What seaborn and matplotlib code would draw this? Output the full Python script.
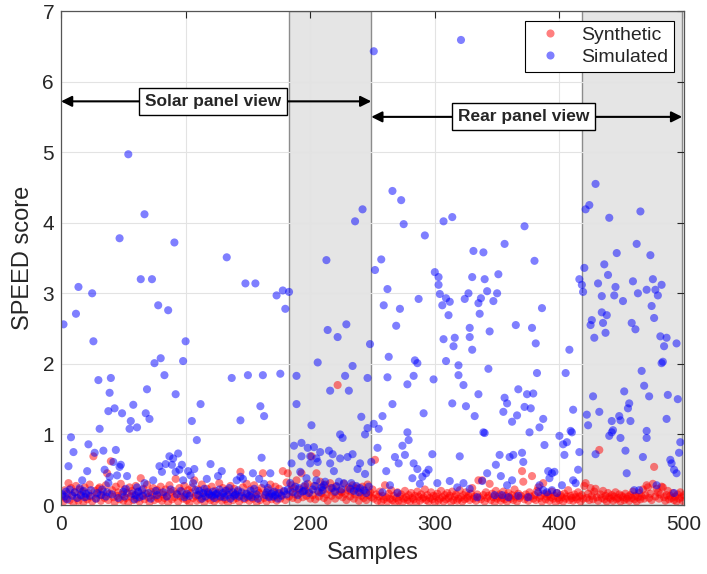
import seaborn as sns
import matplotlib
matplotlib.use('Agg')
import matplotlib.pyplot as plt
import pandas as pd
import numpy as np

# Synthetic (red): one score per sample, 1..500
synthetic_scores = [
    0.12, 0.05, 0.21, 0.09, 0.16, 0.31, 0.07, 0.24, 0.14, 0.03,
    0.18, 0.27, 0.10, 0.06, 0.22, 0.13, 0.19, 0.04, 0.25, 0.11,
    0.08, 0.17, 0.29, 0.12, 0.05, 0.69, 0.20, 0.09, 0.15, 0.23,
    0.25, 0.06, 0.14, 0.19, 0.10, 0.28, 0.45, 0.07, 0.16, 0.62,
    0.21, 0.11, 0.04, 0.26, 0.13, 0.18, 0.08, 0.30, 0.15, 0.06,
    0.22, 0.10, 0.17, 0.03, 0.25, 0.12, 0.20, 0.07, 0.14, 0.27,
    0.09, 0.18, 0.05, 0.38, 0.13, 0.23, 0.08, 0.16, 0.29, 0.11,
    0.04, 0.19, 0.14, 0.24, 0.07, 0.12, 0.21, 0.09, 0.17, 0.26,
    0.06, 0.15, 0.10, 0.22, 0.13, 0.04, 0.28, 0.18, 0.08, 0.20,
    0.11, 0.37, 0.16, 0.05, 0.24, 0.12, 0.19, 0.09, 0.27, 0.14,
    0.07, 0.21, 0.03, 0.17, 0.25, 0.10, 0.35, 0.13, 0.06, 0.22,
    0.15, 0.08, 0.29, 0.12, 0.04, 0.19, 0.23, 0.10, 0.16, 0.07,
    0.26, 0.13, 0.05, 0.20, 0.09, 0.17, 0.31, 0.11, 0.06, 0.24,
    0.14, 0.08, 0.21, 0.03, 0.18, 0.27, 0.12, 0.07, 0.23, 0.15,
    0.10, 0.19, 0.05, 0.47, 0.13, 0.25, 0.08, 0.16, 0.30, 0.11,
    0.06, 0.22, 0.14, 0.09, 0.28, 0.12, 0.04, 0.20, 0.17, 0.07,
    0.24, 0.45, 0.10, 0.15, 0.05, 0.21, 0.13, 0.29, 0.08, 0.18,
    0.11, 0.26, 0.06, 0.16, 0.23, 0.09, 0.14, 0.48, 0.19, 0.07,
    0.32, 0.45, 0.12, 0.20, 0.28, 0.10, 0.24, 0.15, 0.35, 0.08,
    0.22, 0.17, 0.45, 0.11, 0.26, 0.21, 0.13, 0.30, 0.19, 0.09,
    0.69, 0.14, 0.27, 0.08, 0.45, 0.20, 0.12, 0.33, 0.17, 0.25,
    0.10, 0.29, 0.15, 0.06, 0.22, 0.31, 0.13, 0.24, 0.18, 0.09,
    0.27, 1.70, 0.14, 0.20, 0.18, 0.11, 0.30, 0.16, 0.07, 0.21,
    0.25, 0.12, 0.19, 0.28, 0.09, 0.15, 0.23, 0.25, 0.06, 0.17,
    0.13, 0.26, 0.10, 0.20, 0.07, 0.29, 0.14, 0.18, 0.11, 0.22,
    0.09, 0.64, 0.15, 0.06, 0.12, 0.19, 0.04, 0.13, 0.08, 0.28,
    0.11, 0.05, 0.16, 0.09, 0.21, 0.07, 0.13, 0.03, 0.10, 0.18,
    0.06, 0.12, 0.15, 0.04, 0.09, 0.20, 0.11, 0.07, 0.14, 0.05,
    0.17, 0.10, 0.08, 0.13, 0.03, 0.19, 0.12, 0.06, 0.15, 0.09,
    0.11, 0.22, 0.07, 0.14, 0.05, 0.10, 0.18, 0.08, 0.13, 0.04,
    0.12, 0.16, 0.06, 0.09, 0.20, 0.11, 0.05, 0.14, 0.08, 0.17,
    0.10, 0.13, 0.04, 0.19, 0.07, 0.12, 0.15, 0.06, 0.09, 0.21,
    0.11, 0.05, 0.14, 0.08, 0.18, 0.10, 0.13, 0.07, 0.16, 0.24,
    0.09, 0.12, 0.06, 0.15, 0.35, 0.11, 0.08, 0.35, 0.14, 0.05,
    0.18, 0.10, 0.13, 0.30, 0.07, 0.16, 0.11, 0.04, 0.20, 0.09,
    0.12, 0.15, 0.06, 0.10, 0.19, 0.08, 0.13, 0.05, 0.17, 0.11,
    0.09, 0.14, 0.07, 0.22, 0.12, 0.05, 0.16, 0.10, 0.13, 0.48,
    0.33, 0.08, 0.15, 0.11, 0.06, 0.18, 0.12, 0.41, 0.09, 0.14,
    0.07, 0.20, 0.25, 0.10, 0.13, 0.05, 0.31, 0.16, 0.08, 0.12,
    0.15, 0.06, 0.11, 0.19, 0.09, 0.13, 0.04, 0.17, 0.10, 0.07,
    0.14, 0.11, 0.05, 0.16, 0.09, 0.12, 0.21, 0.07, 0.13, 0.10,
    0.06, 0.15, 0.11, 0.08, 0.18, 0.12, 0.05, 0.14, 0.09, 0.27,
    0.31, 0.10, 0.16, 0.07, 0.24, 0.13, 0.08, 0.19, 0.23, 0.11,
    0.06, 0.78, 0.15, 0.10, 0.20, 0.08, 0.13, 0.05, 0.17, 0.11,
    0.09, 0.14, 0.06, 0.12, 0.18, 0.08, 0.10, 0.15, 0.05, 0.13,
    0.11, 0.07, 0.16, 0.09, 0.12, 0.06, 0.14, 0.10, 0.19, 0.08,
    0.13, 0.05, 0.11, 0.17, 0.08, 0.12, 0.22, 0.09, 0.14, 0.28,
    0.25, 0.10, 0.16, 0.07, 0.30, 0.54, 0.12, 0.23, 0.18, 0.09,
    0.15, 0.26, 0.25, 0.11, 0.06, 0.14, 0.20, 0.08, 0.13, 0.10,
    0.17, 0.07, 0.12, 0.05, 0.15, 0.09, 0.18, 0.11, 0.06, 0.14,
]
synthetic_samples = list(range(1, len(synthetic_scores) + 1))

# Simulated (blue): sample index and score
simulated_samples = [
    1, 2, 3, 4, 5, 6, 7, 8, 9,
    10, 11, 12, 13, 14, 15, 16, 17, 18, 19,
    20, 21, 22, 23, 24, 25, 26, 27, 28, 29,
    30, 31, 32, 33, 34, 35, 36, 37, 38, 38, 39, 39,
    40, 41, 42, 43, 44, 45, 46, 47, 47, 48, 49,
    50, 51, 52, 53, 54, 55, 56, 57, 58, 59,
    60, 61, 61, 62, 63, 64, 65, 66, 67, 67, 68, 69,
    70, 71, 72, 73, 74, 75, 76, 77, 78, 79,
    80, 81, 82, 83, 84, 85, 86, 87, 88, 89,
    90, 91, 92, 92, 93, 94, 95, 96, 97, 98, 98, 99,
    100, 101, 102, 103, 104, 105, 106, 107, 108, 109,
    110, 111, 112, 113, 114, 115, 116, 117, 118, 119,
    120, 121, 122, 123, 124, 125, 126, 127, 128, 129,
    130, 131, 132, 133, 134, 135, 136, 137, 138, 139,
    140, 141, 142, 143, 144, 144, 145, 146, 147, 148, 149,
    150, 151, 152, 153, 154, 155, 156, 157, 158, 159,
    160, 161, 162, 163, 163, 164, 165, 166, 167, 168, 169,
    170, 171, 172, 173, 174, 175, 176, 177, 178, 179,
    180, 181, 182, 183, 184, 185, 186, 187, 188, 189, 189,
    190, 191, 192, 193, 193, 194, 195, 196, 197, 198, 199,
    200, 200, 201, 202, 203, 204, 205, 205, 206, 206, 207, 208, 209,
    210, 211, 212, 213, 214, 215, 216, 216, 217, 218, 219,
    220, 221, 222, 223, 224, 224, 225, 226, 227, 228, 229,
    230, 231, 232, 233, 234, 234, 235, 236, 237, 238, 239,
    240, 240, 241, 242, 243, 244, 244, 245, 246, 246, 247, 248, 249,
    251, 251, 252, 254, 255, 257, 258, 258, 259,
    261, 262, 262, 263, 264, 266, 266, 268, 269,
    270, 271, 272, 273, 274, 275, 276, 278, 278, 279,
    282, 283, 283, 284, 286, 286, 287, 288,
    290, 291, 292, 293, 295, 298, 299,
    300, 302, 303, 303, 304, 306, 307, 307, 309, 309,
    311, 312, 312, 314, 314, 315, 316, 318, 319, 319,
    320, 321, 323, 323, 324, 325, 327, 328, 328, 328,
    330, 330, 331, 332, 334, 335, 335, 336, 337, 338, 339, 339,
    340, 340, 342, 342, 343, 344, 347, 348, 349,
    350, 351, 352, 353, 354, 355, 356, 356, 358, 358, 359,
    360, 362, 362, 363, 365, 366, 367, 367,
    370, 371, 372, 372, 374, 375, 376, 377, 378, 379,
    380, 381, 382, 383, 384, 384, 386, 387, 387, 388,
    390, 391, 392, 394, 394, 396, 398,
    400, 402, 403, 404, 405, 406, 408, 409,
    410, 411, 411, 413, 415, 416, 416, 418, 419,
    420, 421, 422, 423, 424, 425, 426, 427, 428, 429, 429,
    431, 432, 434, 434, 435, 436, 437, 438, 439,
    440, 440, 442, 442, 443, 444, 445, 446, 448, 449, 449,
    451, 452, 453, 454, 455, 456, 457, 458, 459,
    460, 461, 462, 463, 464, 465, 466, 467, 468,
    470, 470, 470, 472, 473, 474, 475, 476, 477, 478, 479,
    481, 482, 482, 483, 484, 486, 486, 487, 489,
    490, 492, 492, 494, 494, 495, 496, 497,
]
simulated_scores = [
    0.15, 2.56, 0.12, 0.19, 0.08, 0.55, 0.22, 0.96, 0.13,
    0.75, 0.18, 2.71, 0.10, 3.09, 0.24, 0.14, 0.35, 0.20, 0.11,
    0.16, 0.48, 0.86, 0.13, 0.21, 3.00, 2.32, 0.74, 0.09, 0.17,
    1.77, 1.08, 0.14, 0.22, 0.77, 0.50, 0.12, 0.18, 1.33, 0.31, 1.59, 0.40,
    1.80, 0.15, 0.61, 1.37, 0.78, 0.42, 0.10, 3.78, 0.54, 0.57, 1.30,
    0.19, 0.12, 0.23, 0.41, 4.97, 1.08, 1.19, 0.16, 1.42, 0.08,
    0.14, 1.10, 0.25, 0.19, 0.11, 3.20, 0.21, 0.13, 4.12, 0.31, 1.30, 1.64,
    0.17, 1.22, 0.09, 3.20, 0.35, 2.01, 0.20, 0.14, 2.83, 0.55,
    2.08, 0.47, 0.18, 1.84, 0.58, 0.12, 2.76, 0.69, 0.22, 0.57,
    0.66, 3.72, 1.57, 0.47, 0.15, 0.73, 0.50, 0.20, 0.57, 2.04, 0.35, 0.11,
    2.32, 0.16, 0.48, 0.13, 0.42, 1.19, 0.31, 0.51, 0.21, 0.92,
    0.14, 0.20, 1.43, 0.09, 0.17, 0.23, 0.12, 0.37, 0.18, 0.15,
    0.58, 0.13, 0.19, 0.10, 0.15, 0.16, 0.41, 0.22, 0.12, 0.48,
    0.17, 0.11, 0.20, 3.51, 0.14, 0.24, 0.09, 1.80, 0.18, 0.13,
    0.15, 0.35, 0.21, 0.12, 1.20, 0.40, 0.18, 0.37, 0.10, 3.14, 0.16,
    1.84, 0.13, 0.20, 0.11, 0.45, 0.23, 3.14, 0.15, 0.09, 0.37,
    1.40, 0.67, 1.84, 1.26, 0.30, 0.14, 0.18, 0.24, 0.11, 0.45, 0.16,
    0.12, 0.19, 0.14, 2.97, 0.09, 0.17, 1.86, 0.13, 3.04, 0.20,
    2.78, 0.15, 0.22, 3.02, 0.31, 0.59, 0.18, 0.84, 0.26, 1.83, 1.43,
    0.14, 0.24, 0.47, 0.88, 0.69, 0.19, 0.20, 0.28, 0.38, 0.81, 0.17,
    0.69, 0.59, 1.13, 0.22, 0.82, 0.27, 0.66, 0.35, 2.02, 0.61, 0.18, 0.75, 0.25,
    0.21, 0.28, 0.33, 3.47, 2.48, 0.77, 1.62, 0.59, 0.24, 0.72, 0.48,
    0.19, 0.26, 2.38, 0.33, 1.00, 0.66, 0.22, 0.95, 0.31, 1.83, 2.56,
    0.68, 1.62, 0.23, 0.31, 1.97, 0.72, 0.20, 4.02, 0.27, 0.51, 0.18,
    0.59, 0.24, 1.25, 4.19, 0.21, 1.00, 0.44, 0.17, 1.80, 1.09, 0.26, 2.28, 0.61,
    6.43, 1.15, 3.33, 0.81, 1.08, 3.48, 1.26, 0.18, 2.83,
    0.48, 1.81, 3.06, 2.10, 0.28, 1.43, 4.45, 0.68, 2.54,
    0.17, 0.59, 2.78, 4.32, 0.84, 3.98, 0.71, 1.71, 1.03, 0.92,
    0.38, 1.83, 0.59, 2.05, 2.01, 0.51, 2.92, 0.30,
    0.40, 1.30, 3.82, 0.45, 0.50, 0.72, 1.78,
    3.30, 0.31, 3.23, 3.12, 2.99, 2.83, 2.35, 4.02, 2.93, 2.04,
    2.69, 2.88, 0.34, 4.08, 1.44, 2.25, 2.37, 0.25, 1.98, 1.84,
    0.69, 6.59, 1.70, 0.31, 2.92, 1.40, 3.00, 2.51, 2.38, 0.23,
    3.23, 2.20, 3.60, 1.26, 0.11, 2.86, 1.57, 2.71, 2.93, 0.34, 3.58, 1.03,
    3.20, 1.02, 3.03, 0.45, 1.93, 2.46, 2.89, 0.14, 0.57,
    3.00, 3.27, 0.71, 0.41, 0.14, 1.32, 1.52, 3.70, 1.44, 0.28, 0.11,
    0.68, 1.18, 0.35, 0.71, 2.55, 1.27, 1.64, 0.13,
    0.74, 0.61, 1.39, 3.95, 1.57, 0.11, 1.03, 1.37, 2.51, 1.58,
    3.46, 2.29, 1.87, 0.18, 1.10, 0.28, 2.79, 1.22, 0.21, 0.85,
    0.18, 0.48, 0.38, 0.45, 0.21, 0.47, 0.17,
    0.98, 0.28, 0.86, 0.71, 1.87, 0.89, 2.20, 1.05,
    1.03, 1.35, 0.35, 0.31, 0.50, 3.20, 0.75, 3.12, 3.02,
    3.36, 4.19, 1.28, 1.13, 4.25, 2.55, 2.62, 1.54, 2.37, 4.55, 0.72,
    3.14, 1.32, 2.96, 2.73, 2.58, 3.41, 2.44, 2.69, 3.26,
    4.07, 0.98, 1.19, 1.03, 1.06, 2.97, 3.09, 3.57, 1.26, 1.20, 0.95,
    2.89, 1.61, 0.77, 0.45, 1.37, 1.44, 1.19, 2.58, 3.17,
    0.21, 2.49, 3.70, 3.00, 0.21, 4.16, 1.90, 0.68, 1.69,
    3.05, 1.05, 0.95, 1.54, 3.54, 2.82, 3.20, 2.65, 3.05, 0.28, 2.97,
    2.39, 3.12, 2.01, 2.03, 2.25, 2.37, 1.22, 1.56, 0.64,
    0.59, 0.50, 0.17, 2.29, 0.45, 1.50, 0.74, 0.89,
]

# shaded sample ranges and view annotations
shaded_ranges = [(183, 249), (418, 498.5)]
solar_view = (0, 249)
rear_view = (249, 498.5)

df = pd.concat([
    pd.DataFrame({'sample': synthetic_samples, 'score': synthetic_scores, 'source': 'Synthetic'}),
    pd.DataFrame({'sample': simulated_samples, 'score': simulated_scores, 'source': 'Simulated'}),
], ignore_index=True)

sns.set_style('white')
plt.rcParams['font.family'] = ['Liberation Sans', 'DejaVu Sans']

fig = plt.figure(figsize=(7.07, 5.74), dpi=100)
ax = fig.add_axes([0.0863, 0.1202, 0.8812, 0.8606])

for lo, hi in shaded_ranges:
    ax.axvspan(lo, hi, facecolor='#e5e5e5', edgecolor='#8c8c8c', lw=1.0, zorder=0.1)

sns.scatterplot(data=df, x='sample', y='score', hue='source',
                hue_order=['Synthetic', 'Simulated'],
                palette={'Synthetic': (1, 0, 0), 'Simulated': (0, 0, 1)},
                alpha=0.5, s=34, linewidth=0, ax=ax, zorder=2)

ax.set_xlim(0, 500)
ax.set_ylim(0, 7)
ax.set_xticks(range(0, 501, 100))
ax.set_yticks(range(0, 8))
ax.grid(True, color='#e3e3e3', lw=0.8)
ax.set_axisbelow(True)
ax.tick_params(direction='in', top=True, right=True, length=5, width=0.8,
               labelsize=15, colors='#262626')
ax.tick_params(axis='x', pad=7)
ax.tick_params(axis='y', pad=5)
for sp in ax.spines.values():
    sp.set_color('#555555')
    sp.set_linewidth(0.9)

ax.set_xlabel('Samples', fontsize=17, color='#262626', labelpad=6)
ax.set_ylabel('SPEED score', fontsize=17, color='#262626', labelpad=6)

# view arrows with labels
arrow_kw = dict(arrowstyle='<|-|>', color='black', lw=1.5, mutation_scale=16,
                shrinkA=0, shrinkB=0)
ax.annotate('', xy=(solar_view[0], 5.72), xytext=(solar_view[1], 5.72),
            arrowprops=arrow_kw, zorder=3)
ax.annotate('', xy=(rear_view[0], 5.50), xytext=(rear_view[1], 5.50),
            arrowprops=arrow_kw, zorder=3)
box = dict(boxstyle='square,pad=0.35', facecolor='white', edgecolor='black', lw=1.0)
ax.text(122, 5.72, 'Solar panel view', fontsize=12.5, fontweight='bold',
        ha='center', va='center', bbox=box, zorder=4)
ax.text(371, 5.50, 'Rear panel view', fontsize=12.5, fontweight='bold',
        ha='center', va='center', bbox=box, zorder=4)

leg = ax.legend(loc='upper right', fontsize=14, frameon=True, fancybox=False,
                edgecolor='black', framealpha=1, borderaxespad=0.5,
                handletextpad=0.6, borderpad=0.3, labelspacing=0.2)
leg.get_frame().set_linewidth(0.8)
leg.set_zorder(5)

plt.savefig('out.png', dpi=100)
